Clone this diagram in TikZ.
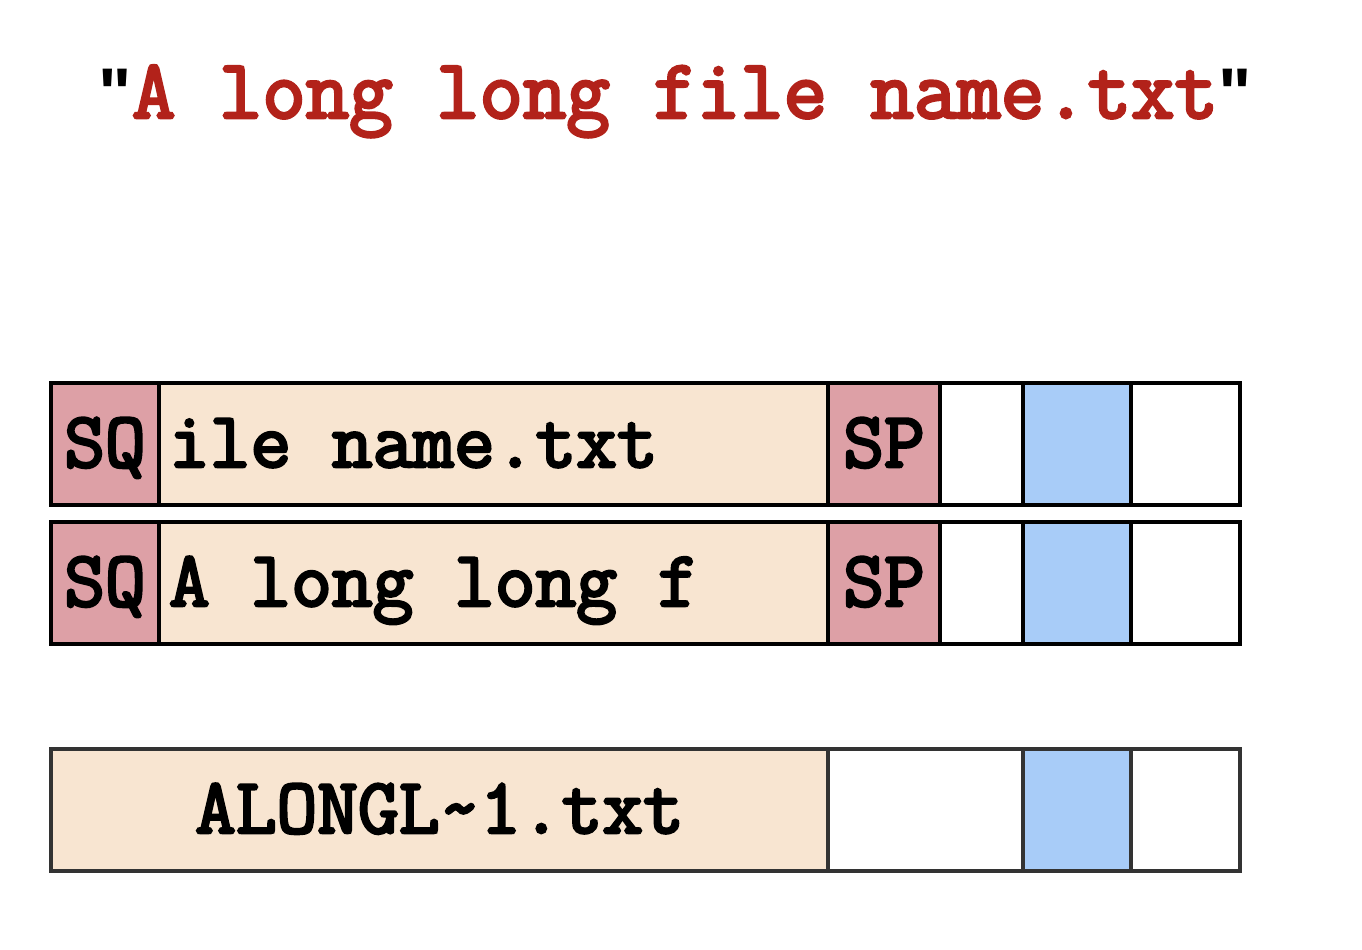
\documentclass[tikz,border=0pt]{standalone}
\usepackage{fontspec}
\setsansfont{Liberation Sans}
\setmonofont{Latin Modern Mono}[AutoFakeBold=3.5]
\usepackage{xcolor}
\usetikzlibrary{positioning}

\definecolor{sqpink}{HTML}{DDA0A6}
\definecolor{namepeach}{HTML}{F8E5D1}
\definecolor{slotblue}{HTML}{A8CCF8}
\definecolor{titlered}{HTML}{B2221A}

\newcommand{\cellfont}{\fontsize{22.5}{26}\selectfont\ttfamily\bfseries}
\newcommand{\qmark}{{\sffamily\bfseries\fontsize{20}{24}\selectfont\textquotedbl}}

\tikzset{
  cell/.style={draw=black, line width=1.1pt, minimum height=1.22cm, inner sep=0pt,
    outer sep=0pt, font=\cellfont, text height=0.46cm, text depth=0cm},
  tag/.style={cell, fill=sqpink, minimum width=1.08cm},
  namecell/.style={cell, fill=namepeach, text width=6.49cm, inner xsep=0.1cm, align=flush left},
  slot/.style={cell, fill=white},
  short/.style={draw=black!80}
}

\begin{document}
\begin{tikzpicture}[scale=1]
      \useasboundingbox (0,0) rectangle (13.62,9.5);

      \node[anchor=base, font=\fontsize{24}{28}\selectfont] (title) at (6.75,8.32)
        {\qmark\textcolor{titlered}{\ttfamily\bfseries A long long file name.txt}\qmark};

      % second entry of the long name
      \node[tag, anchor=west] (sq1) at (0.51,5.06) {SQ};
      \node[namecell, right=0pt of sq1] (name1) {ile name.txt};
      \node[tag, minimum width=1.12cm, right=0pt of name1] (sp1) {SP};
      \node[slot, minimum width=0.83cm, right=0pt of sp1] (gap1) {};
      \node[slot, fill=slotblue, minimum width=1.08cm, right=0pt of gap1] (blue1) {};
      \node[slot, minimum width=1.09cm, right=0pt of blue1] (end1) {};

      % first entry of the long name
      \node[tag, anchor=west] (sq2) at (0.51,3.67) {SQ};
      \node[namecell, right=0pt of sq2] (name2) {A long long f};
      \node[tag, minimum width=1.12cm, right=0pt of name2] (sp2) {SP};
      \node[slot, minimum width=0.83cm, right=0pt of sp2] (gap2) {};
      \node[slot, fill=slotblue, minimum width=1.08cm, right=0pt of gap2] (blue2) {};
      \node[slot, minimum width=1.09cm, right=0pt of blue2] (end2) {};

      % short name entry
      \node[cell, short, fill=namepeach, minimum width=7.77cm, anchor=west] (name3) at (0.51,1.40) {ALONGL\textasciitilde1.txt};
      \node[slot, short, minimum width=1.95cm, right=0pt of name3] (gap3) {};
      \node[slot, short, fill=slotblue, minimum width=1.08cm, right=0pt of gap3] (blue3) {};
      \node[slot, short, minimum width=1.09cm, right=0pt of blue3] (end3) {};
    \end{tikzpicture}
\end{document}
